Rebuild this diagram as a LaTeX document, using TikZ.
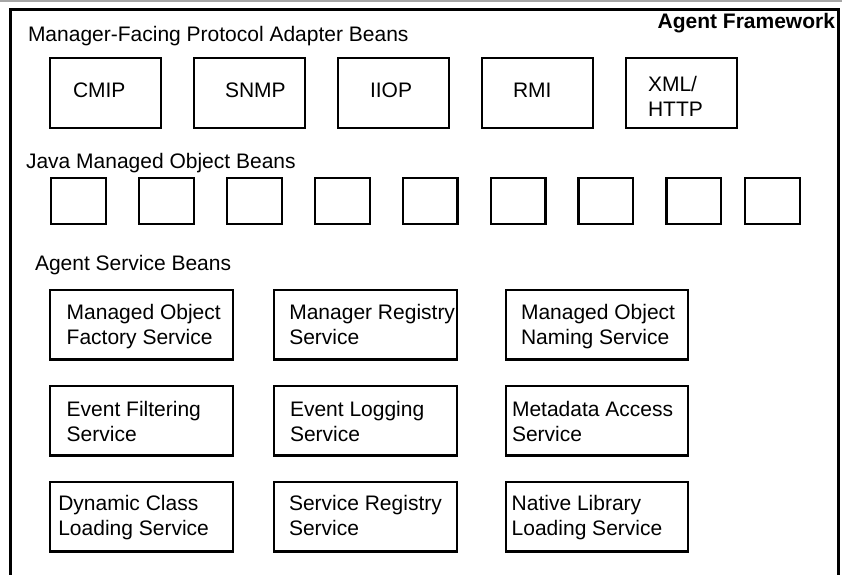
\documentclass[tikz,border=0pt]{standalone}
\usepackage{fontspec}
\setmainfont{Liberation Sans}
\begin{document}
\begin{tikzpicture}[x=1pt,y=-1pt,
  box/.style={draw, line width=2.2pt, inner sep=0pt, outer sep=0pt, anchor=north west},
  lbl/.style={anchor=base west, inner sep=0pt, outer sep=0pt},
  % two-line labels: the base anchor sits on the last line
  svc/.style={anchor=base west, inner sep=0pt, outer sep=0pt, align=left,
              font=\fontsize{21}{25}\selectfont},
  frameline/.style={line width=2.2pt}]
\useasboundingbox (0,0) rectangle (842,574);
\fontsize{21}{25}\selectfont

% thin rule along the top edge
\coordinate (topL) at (0,1);
\coordinate (topR) at (842,1);
\draw[gray!70, line width=1.2pt] (topL) -- (topR);

% agent framework frame, open at the bottom
\coordinate (fBL) at (10.5,575);
\coordinate (fTL) at (10.5,9.5);
\coordinate (fTR) at (838.5,9.5);
\coordinate (fBR) at (838.5,575);
\draw[frameline] (fBL) -- (fTL) -- (fTR) -- (fBR);

\node[lbl, anchor=base east, font=\fontsize{21}{25}\selectfont\bfseries] (title) at (835,28.5) {Agent Framework};

% protocol adapter beans
\node[lbl] (hdrA) at (28,41.7) {Manager-Facing Protocol Adapter Beans};
\foreach \i/\nm in {0/cmip,1/snmp,2/iiop,3/rmi,4/xml}{
  \node[box, minimum width=110.8pt, minimum height=69.8pt] (\nm) at ({50.1+144*\i},58.1) {};
}
\node[lbl] (tcmip) at (73,97) {CMIP};
\node[lbl] (tsnmp) at (225,97) {SNMP};
\node[lbl] (tiiop) at (370,97) {IIOP};
\node[lbl] (trmi)  at (513,97) {RMI};
\node[svc] (txml)  at (648,116.5) {XML/\\HTTP};

% java managed object beans
\node[lbl] (hdrB) at (26,168) {Java Managed Object Beans};
\foreach \i in {0,...,7}{
  \node[box, minimum width=54.8pt, minimum height=45.8pt] (mo\i) at ({51.1+87.9*\i},178.1) {};
}
\node[box, minimum width=54.8pt, minimum height=45.8pt] (mo8) at (745.1,178.1) {};

% agent service beans
\node[lbl] (hdrC) at (35,270) {Agent Service Beans};
\foreach \r/\y in {1/289,2/385,3/481}{
  \foreach \c/\x/\w in {1/49/185,2/273/185,3/505/184}{
    \node[box, minimum width=\w pt-2.2pt, minimum height=69.3pt] (s\r\c) at (\x+1.1,\y+1.1) {};
  }
}
\node[svc] (t11) at (66.7,344.5) {Managed Object\\Factory Service};
\node[svc] (t12) at (289.3,344.5) {Manager Registry\\Service};
\node[svc] (t13) at (521,344.5) {Managed Object\\Naming Service};
\node[svc] (t21) at (66.7,441) {Event Filtering\\Service};
\node[svc] (t22) at (290,441) {Event Logging\\Service};
\node[svc] (t23) at (512,441) {Metadata Access\\Service};
\node[svc] (t31) at (58.3,535.5) {Dynamic Class\\Loading Service};
\node[svc] (t32) at (289,535.5) {Service Registry\\Service};
\node[svc] (t33) at (511.7,535.5) {Native Library\\Loading Service};
\end{tikzpicture}
\end{document}
